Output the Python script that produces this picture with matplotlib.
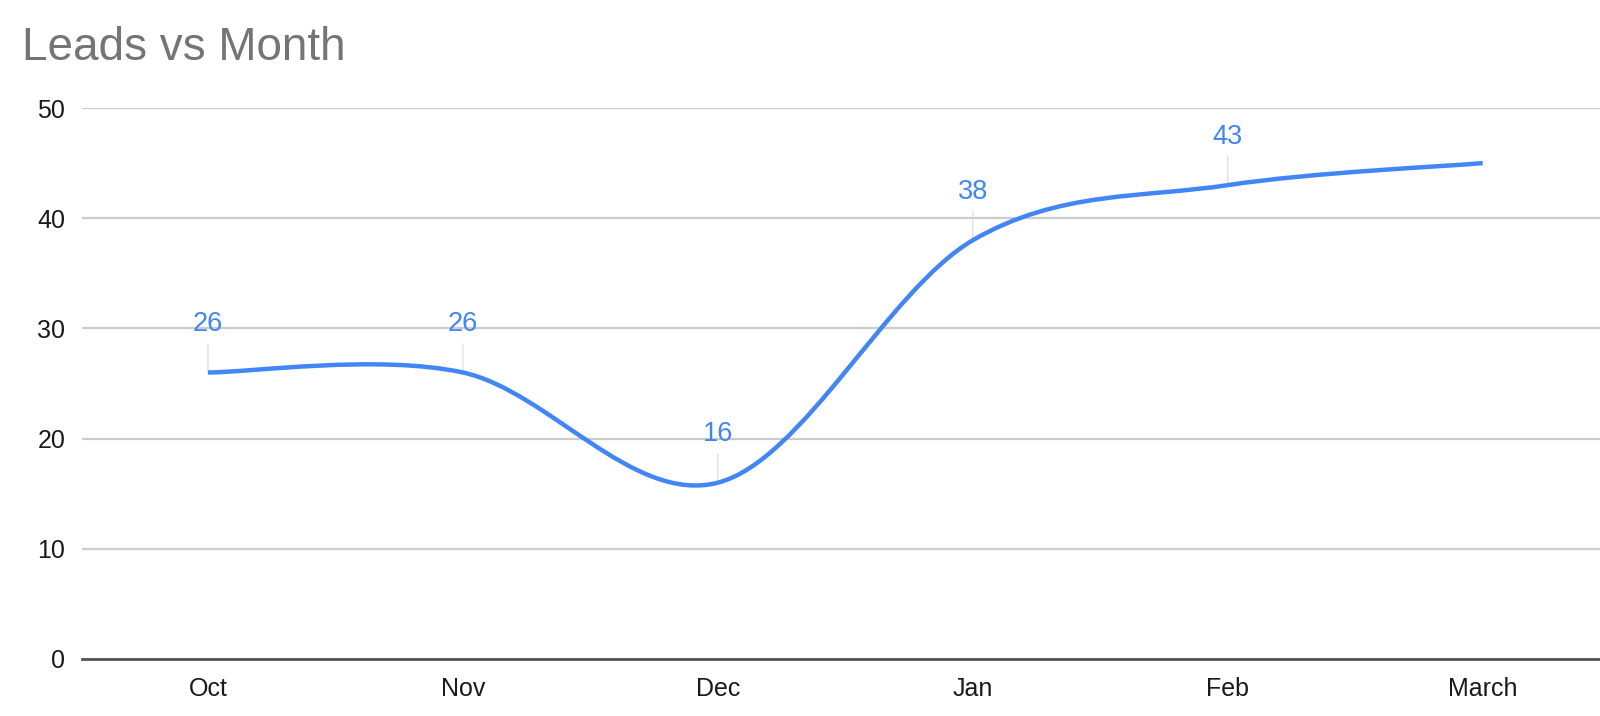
import numpy as np
import matplotlib.pyplot as plt
from matplotlib.path import Path
from matplotlib.patches import PathPatch

months = ["Oct", "Nov", "Dec", "Jan", "Feb", "March"]
leads = [26, 26, 16, 38, 43, 45]
labelled = [True, True, True, True, True, False]

BLUE = "#4285f4"

plt.rcParams["font.family"] = ["Liberation Sans", "DejaVu Sans"]


def smooth_path(xs, ys):
    # Catmull-Rom through the points, written as cubic Bezier segments
    xs = np.asarray(xs, float)
    ys = np.asarray(ys, float)
    n = len(xs)
    verts = [(xs[0], ys[0])]
    codes = [Path.MOVETO]
    for i in range(n - 1):
        i0 = max(i - 1, 0)
        i3 = min(i + 2, n - 1)
        c1 = (xs[i] + (xs[i + 1] - xs[i0]) / 6, ys[i] + (ys[i + 1] - ys[i0]) / 6)
        c2 = (xs[i + 1] - (xs[i3] - xs[i]) / 6, ys[i + 1] - (ys[i3] - ys[i]) / 6)
        verts += [c1, c2, (xs[i + 1], ys[i + 1])]
        codes += [Path.CURVE4] * 3
    return Path(verts, codes)


fig = plt.figure(figsize=(16, 7.16), dpi=100)
ax = fig.add_axes([82 / 1600, 1 - 659 / 716, 1 - 82 / 1600, (659 - 108) / 716])

x = np.arange(len(months))
ax.add_patch(PathPatch(smooth_path(x, leads), facecolor="none", edgecolor=BLUE,
                       lw=3.2, capstyle="butt", zorder=3))

for i, (v, show) in enumerate(zip(leads, labelled)):
    if not show:
        continue
    ax.annotate(str(v), xy=(i, v), xytext=(0, 35), textcoords="offset points",
                ha="center", va="center", fontsize=19.5, color=BLUE,
                arrowprops=dict(arrowstyle="-", color="#d9d9d9", lw=0.8,
                                shrinkA=3, shrinkB=0), zorder=2)

ax.set_xlim(-0.494, 5.46)
ax.set_ylim(0, 50)
ax.set_yticks([0, 10, 20, 30, 40, 50])
ax.set_xticks(x)
ax.set_xticklabels(months)
ax.tick_params(axis="both", length=0, labelsize=18, colors="#1a1a1a")
ax.tick_params(axis="y", pad=12)
ax.tick_params(axis="x", pad=13)

ax.grid(axis="y", color="#cccccc", lw=1.6)
ax.set_axisbelow(True)
for s in ["top", "right", "left"]:
    ax.spines[s].set_visible(False)
ax.spines["bottom"].set_color("#555555")
ax.spines["bottom"].set_linewidth(2)
ax.spines["bottom"].set_zorder(4)

fig.text(22 / 1600, 1 - 60 / 716, "Leads vs Month", fontsize=33, color="#757575",
         ha="left", va="baseline")

fig.savefig("out.png", dpi=100, facecolor="white")
